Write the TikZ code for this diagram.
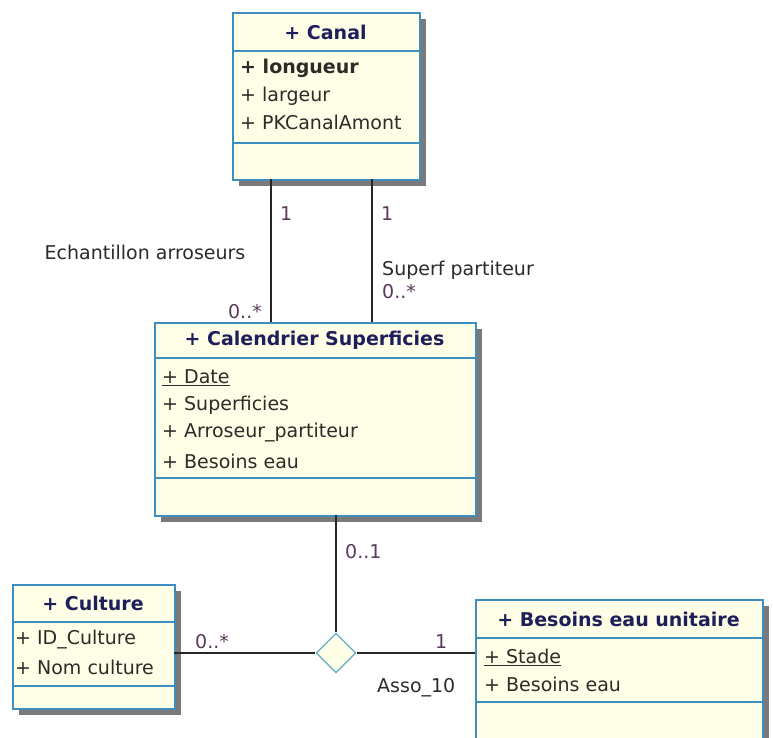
\documentclass[tikz,border=0pt]{standalone}
\usepackage{fontspec}
\setmainfont{DejaVu Sans}
\usetikzlibrary{shapes.geometric}

\definecolor{boxfill}{HTML}{FFFFE8}
\definecolor{boxedge}{HTML}{3F8EC0}
\definecolor{boxshadow}{HTML}{7A7A7A}
\definecolor{titlecol}{HTML}{1E1E5A}
\definecolor{attrcol}{HTML}{2E2A28}
\definecolor{multcol}{HTML}{5A3A5A}
\definecolor{diamedge}{HTML}{6FB4CF}

\tikzset{
  classbox/.style={draw=boxedge, line width=1.6pt, fill=boxfill, rectangle, inner sep=0pt, anchor=north west},
  shadowbox/.style={fill=boxshadow, draw=none},
  divider/.style={draw=boxedge, line width=1.6pt},
  ctitle/.style={font=\fontsize{19}{22}\selectfont\bfseries, text=titlecol, inner sep=0pt, anchor=center},
  attr/.style={font=\fontsize{19}{22}\selectfont, text=attrcol, inner sep=0pt, anchor=west},
  mult/.style={font=\fontsize{19}{22}\selectfont, text=multcol, inner sep=0pt},
  rolelbl/.style={font=\fontsize{19}{22}\selectfont, text=attrcol, inner sep=0pt},
  assoc/.style={draw=black!85, line width=1.7pt},
}

\begin{document}
\begin{tikzpicture}[x=1pt, y=-1pt]
\useasboundingbox (0,0) rectangle (773,737);
\fill[white] (0,0) rectangle (773,737);

% ---------- Canal ----------
\fill[shadowbox] (239,19) rectangle (426,186);
\node[classbox, minimum width=187pt, minimum height=167pt] (canal) at (232,12) {};
\draw[divider] (232,51) -- (419,51);
\draw[divider] (232,143) -- (419,143);
\node[ctitle] (canalT) at (325.5,32) {+ Canal};
\node[attr, font=\fontsize{19}{22}\selectfont\bfseries] (canalA1) at (240,68) {+ longueur};
\node[attr] (canalA2) at (240,96) {+ largeur};
\node[attr] (canalA3) at (240,122) {+ PKCanalAmont};

% ---------- Calendrier Superficies ----------
\fill[shadowbox] (161,329) rectangle (482,522);
\node[classbox, minimum width=321pt, minimum height=193pt] (cal) at (154,322) {};
\draw[divider] (154,358) -- (475,358);
\draw[divider] (154,478) -- (475,478);
\node[ctitle] (calT) at (314.5,340) {+ Calendrier Superficies};
\node[attr] (calA1) at (162,378) {\underline{+ Date}};
\node[attr] (calA2) at (162,405) {+ Superficies};
\node[attr] (calA3) at (162,433) {+ Arroseur\_partiteur};
\node[attr] (calA4) at (162,461) {+ Besoins eau};

% ---------- Culture ----------
\fill[shadowbox] (19,591) rectangle (181,715);
\node[classbox, minimum width=162pt, minimum height=124pt] (culture) at (12,584) {};
\draw[divider] (12,622) -- (174,622);
\draw[divider] (12,686) -- (174,686);
\node[ctitle] (cultT) at (93,603) {+ Culture};
\node[attr] (cultA1) at (15,640) {+ ID\_Culture};
\node[attr] (cultA2) at (15,667) {+ Nom culture};

% ---------- Besoins eau unitaire ----------
\fill[shadowbox] (482,606) rectangle (769,752);
\node[classbox, minimum width=287pt, minimum height=146pt] (besoins) at (475,599) {};
\draw[divider] (475,638) -- (762,638);
\draw[divider] (475,702) -- (762,702);
\node[ctitle] (besT) at (618.5,619) {+ Besoins eau unitaire};
\node[attr] (besA1) at (484,657) {\underline{+ Stade}};
\node[attr] (besA2) at (484,684) {+ Besoins eau};

% ---------- associations Canal -- Calendrier ----------
\coordinate (c1top) at (271,179);
\coordinate (c1bot) at (271,322);
\coordinate (c2top) at (372,179);
\coordinate (c2bot) at (372,322);
\draw[assoc] (c1top) -- (c1bot);
\draw[assoc] (c2top) -- (c2bot);
\node[mult, anchor=west] (m1) at (280,214) {1};
\node[mult, anchor=west] (m2) at (381,214) {1};
\node[rolelbl] (r1) at (145,252) {Echantillon arroseurs};
\node[mult, anchor=east] (m3) at (262,312) {0..*};
\node[rolelbl, anchor=west] (r2) at (382,270) {Superf partiteur};
\node[mult, anchor=west] (m4) at (382,292) {0..*};

% ---------- ternary association Asso_10 ----------
\node[diamond, draw=diamedge, line width=1.4pt, fill=boxfill, minimum width=40pt, minimum height=40pt, inner sep=0pt] (asso) at (336,653) {};
\coordinate (calbot) at (336,515);
\coordinate (cultright) at (174,653);
\coordinate (besleft) at (475,653);
\draw[assoc] (calbot) -- (asso.north);
\draw[assoc] (cultright) -- (asso.west);
\draw[assoc] (asso.east) -- (besleft);
\node[mult, anchor=west] (m5) at (345,552) {0..1};
\node[mult, anchor=west] (m6) at (195,642) {0..*};
\node[mult, anchor=west] (m7) at (435,642) {1};
\node[rolelbl, anchor=west] (r3) at (377,688) {Asso\_10};
\end{tikzpicture}
\end{document}
